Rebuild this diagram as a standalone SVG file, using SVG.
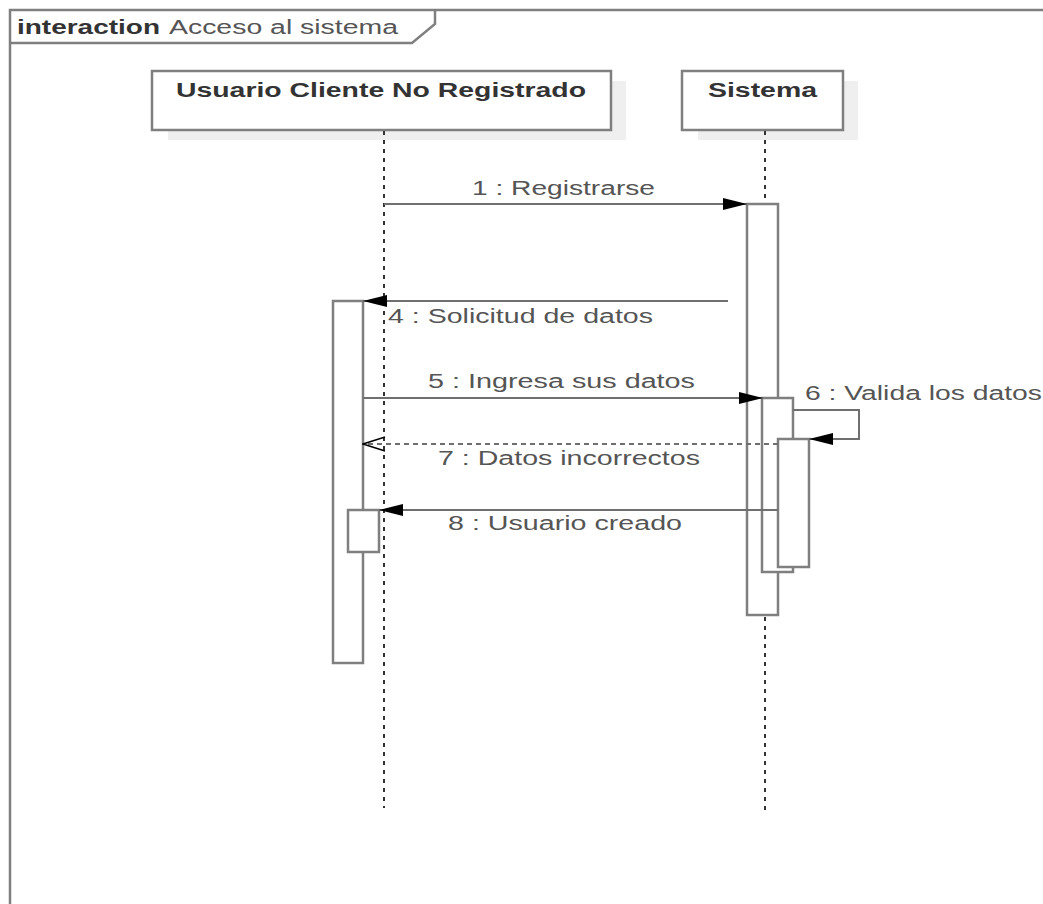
<svg xmlns="http://www.w3.org/2000/svg" width="1043" height="904" viewBox="0 0 1043 904">
<style>
.frame{fill:none;stroke:#7f7f7f;stroke-width:2.5}
.box{fill:#fff;stroke:#7f7f7f;stroke-width:2.5}
.shadow{fill:#efefef;stroke:none}
.life{stroke:#333;stroke-width:2;stroke-dasharray:4 5;fill:none}
.act{fill:#fff;stroke:#7f7f7f;stroke-width:2.5}
.msg{stroke:#6f6f6f;stroke-width:2;fill:none}
.ret{stroke:#6f6f6f;stroke-width:2;fill:none;stroke-dasharray:5 4}
.hdr{font-family:"Liberation Sans",Arial,sans-serif;font-size:20px;font-weight:bold;fill:#333}
.lbl{font-family:"Liberation Sans",Arial,sans-serif;font-size:20px;fill:#555}
</style>
<defs>
<marker id="filled" markerWidth="24" markerHeight="14" refX="24" refY="7" orient="auto" markerUnits="userSpaceOnUse">
<path d="M0,1 L24,7 L0,13 Z" fill="#000"/>
</marker>
<marker id="open" markerWidth="24" markerHeight="16" refX="23" refY="8" orient="auto" markerUnits="userSpaceOnUse">
<path d="M1,1 L23,8 L1,15" fill="none" stroke="#000" stroke-width="1.5"/>
</marker>
</defs>
<rect width="1043" height="904" fill="#fff"/>
<g id="frame">
<path class="frame" d="M10,920 L10,10 L1060,10"/>
<path class="frame" d="M10,43 L412,43 L435,24 L435,10"/>
<text x="17" y="34" class="hdr" textLength="143" lengthAdjust="spacingAndGlyphs">interaction</text>
<text x="169" y="34" class="lbl" textLength="229" lengthAdjust="spacingAndGlyphs">Acceso al sistema</text>
</g>
<g id="lifeline-usuario">
<rect class="shadow" x="168" y="81" width="458" height="59"/>
<rect class="box" x="152" y="71" width="459" height="59"/>
<text x="176" y="97" class="hdr" textLength="410" lengthAdjust="spacingAndGlyphs">Usuario Cliente No Registrado</text>
<line class="life" x1="384" y1="131" x2="384" y2="808"/>
<rect class="act" x="333" y="301" width="30" height="362"/>
<rect class="act" x="348" y="510" width="31" height="42"/>
</g>
<g id="lifeline-sistema">
<rect class="shadow" x="698" y="81" width="160" height="59"/>
<rect class="box" x="682" y="71" width="161" height="59"/>
<text x="708" y="97" class="hdr" textLength="109" lengthAdjust="spacingAndGlyphs">Sistema</text>
<line class="life" x1="765" y1="131" x2="765" y2="815"/>
<rect class="act" x="747" y="204" width="31" height="411"/>
<rect class="act" x="762" y="398" width="31" height="174"/>
<rect class="act" x="778" y="439" width="31" height="128"/>
</g>
<g id="connectors">
<line class="msg" x1="384" y1="204" x2="747" y2="204" marker-end="url(#filled)"/>
<text x="472" y="195" class="lbl" textLength="183" lengthAdjust="spacingAndGlyphs">1 : Registrarse</text>
<line class="msg" x1="728" y1="301" x2="363" y2="301" marker-end="url(#filled)"/>
<text x="388" y="323" class="lbl" textLength="265" lengthAdjust="spacingAndGlyphs">4 : Solicitud de datos</text>
<line class="msg" x1="363" y1="398" x2="763" y2="398" marker-end="url(#filled)"/>
<text x="428" y="388" class="lbl" textLength="267" lengthAdjust="spacingAndGlyphs">5 : Ingresa sus datos</text>
<path class="msg" d="M793,410 L859,410 L859,439 L809,439" marker-end="url(#filled)"/>
<text x="805" y="400" class="lbl" textLength="237" lengthAdjust="spacingAndGlyphs">6 : Valida los datos</text>
<line class="ret" x1="778" y1="444" x2="363" y2="444" marker-end="url(#open)"/>
<text x="438" y="465" class="lbl" textLength="262" lengthAdjust="spacingAndGlyphs">7 : Datos incorrectos</text>
<line class="msg" x1="778" y1="510" x2="379" y2="510" marker-end="url(#filled)"/>
<text x="448" y="530" class="lbl" textLength="234" lengthAdjust="spacingAndGlyphs">8 : Usuario creado</text>
</g>
</svg>
